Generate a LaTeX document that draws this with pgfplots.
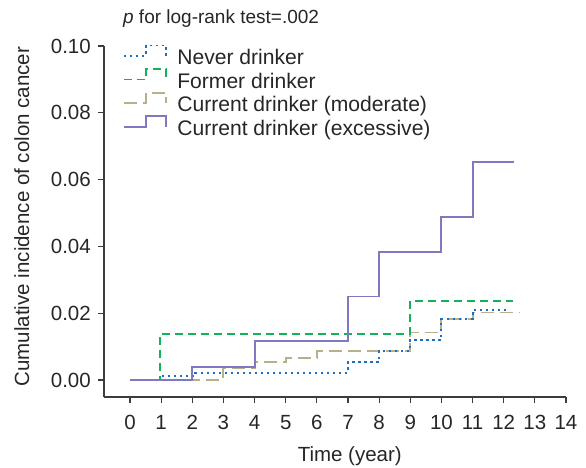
\documentclass[border=0pt]{standalone}
\usepackage{fontspec}
\setmainfont{Liberation Sans}
\usepackage{pgfplots}
\pgfplotsset{compat=1.18}
\definecolor{neverblue}{RGB}{31,111,192}
\definecolor{formergreen}{RGB}{20,176,90}
\definecolor{modolive}{RGB}{184,176,140}
\definecolor{excpurple}{RGB}{128,120,192}
\definecolor{axisgray}{RGB}{60,60,60}
\newcommand{\bigf}{\fontsize{20.5}{24}\selectfont}

\begin{document}
\begin{tikzpicture}
\begin{axis}[
  scale only axis,
  width=462pt, height=351pt,
  xmin=-0.835, xmax=14,
  ymin=-0.0051, ymax=0.10,
  clip=false,
  axis x line=bottom, axis y line=left,
  axis line style={-, draw=axisgray, line width=1.1pt},
  tick align=outside, major tick length=6pt,
  tick style={draw=axisgray, line width=1.1pt},
  xtick={0,1,...,14},
  ytick={0,0.02,0.04,0.06,0.08,0.10},
  scaled y ticks=false,
  /pgf/number format/assume math mode=true,
  tick label style={font=\bigf, inner sep=0pt, text=black!85},
  xticklabel style={anchor=north, yshift=-12pt},
  yticklabel style={anchor=east, xshift=-7pt,
    /pgf/number format/fixed, /pgf/number format/fixed zerofill,
    /pgf/number format/precision=2},
  xlabel={Time (year)},
  ylabel={Cumulative incidence of colon cancer},
  label style={font=\bigf, inner sep=0pt, text=black!85},
  xlabel style={at={(axis description cs:0.532,-0.185)}, anchor=base},
  ylabel style={at={(axis description cs:-0.1623,0.514)}, anchor=base},
  legend image code/.code={
    \draw[#1] (0pt,3.4pt) -- (22pt,3.4pt) -- (22pt,13.8pt) -- (42pt,13.8pt) -- (42pt,3.4pt);
  },
  legend cell align=left,
  legend style={
    draw=none, fill=none, inner sep=0pt, outer sep=0pt,
    at={(rel axis cs:0.0411,1.004)}, anchor=north west,
    font=\fontsize{21.1}{24}\selectfont, text=black!85, row sep=-2.9pt,
    nodes={text height=15pt, text depth=4.5pt},
    /tikz/every odd column/.append style={column sep=8.4pt},
  },
]
\addlegendimage{neverblue, line width=1.9pt, dash pattern=on 2.5pt off 3.5pt}
\addlegendentry{Never drinker}
\addlegendimage{formergreen, line width=1.9pt, dash pattern=on 8pt off 5pt}
\addlegendentry{Former drinker}
\addlegendimage{modolive, line width=1.9pt, dash pattern=on 13pt off 6pt}
\addlegendentry{Current drinker (moderate)}
\addlegendimage{excpurple, line width=1.9pt}
\addlegendentry{Current drinker (excessive)}

% current drinker (moderate)
\addplot[forget plot, const plot, modolive, line width=1.9pt, dash pattern=on 13pt off 6pt] coordinates {
  (0,0) (3,0.0036) (4,0.0053) (5,0.0067) (6,0.0087) (9,0.0142) (10,0.0183) (11,0.0202) (12.5,0.0202)
};
% never drinker
\addplot[forget plot, const plot, neverblue, line width=1.9pt, dash pattern=on 2.5pt off 3.5pt] coordinates {
  (0,0) (1,0.0012) (2.1,0.0021) (7,0.0053) (8,0.0087) (9,0.0119) (10,0.0183) (11,0.0210) (12.15,0.0210)
};
% former drinker
\addplot[forget plot, const plot, formergreen, line width=1.9pt, dash pattern=on 8pt off 5pt] coordinates {
  (0,0) (0.97,0.0138) (9,0.0236) (12.3,0.0236)
};
% current drinker (excessive)
\addplot[forget plot, const plot, excpurple, line width=1.9pt] coordinates {
  (0,0) (2,0.0038) (4,0.0118) (7,0.0250) (8,0.0384) (10,0.0488) (11,0.0653) (12.33,0.0653)
};

\node[anchor=base west, inner sep=0pt, font=\fontsize{19}{22}\selectfont, text=black!85]
  at (rel axis cs:0.041,1.0627) {\textit{p} for log-rank test=.002};
\end{axis}
\pgfresetboundingbox
\path (-104pt,-71pt) rectangle (482pt,397pt);
\end{tikzpicture}
\end{document}
